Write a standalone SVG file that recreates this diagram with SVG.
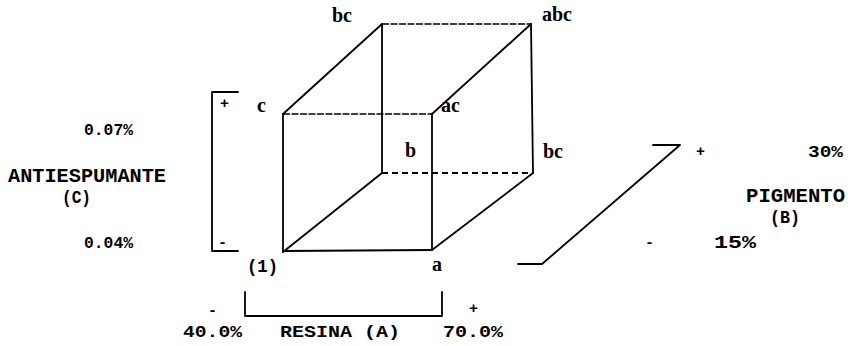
<svg xmlns="http://www.w3.org/2000/svg" width="848" height="346" viewBox="0 0 848 346">
<style>
.ln{stroke:#000;stroke-width:1.8;fill:none;stroke-linecap:round;stroke-linejoin:round}
.thin{stroke:#000;stroke-width:1.3;fill:none;stroke-dasharray:7 1.5}
.dash{stroke:#000;stroke-width:1.8;fill:none;stroke-dasharray:6 4}
.m{font-family:"Liberation Mono","DejaVu Sans Mono",monospace;font-weight:bold;fill:#000}
.s{font-family:"Liberation Serif","DejaVu Serif",serif;font-weight:bold;fill:#000;font-size:20px}
</style>
<rect width="848" height="346" fill="#fff"/>
<g id="connectors">
  <!-- back face -->
  <line class="thin" x1="382" y1="24" x2="531" y2="24"/>
  <line class="ln" x1="382" y1="24" x2="382" y2="173"/>
  <line class="ln" x1="531" y1="24" x2="533" y2="173"/>
  <line class="dash" x1="382" y1="173" x2="533" y2="173"/>
  <!-- front face -->
  <line class="thin" x1="283" y1="114" x2="432" y2="114"/>
  <line class="ln" x1="283" y1="114" x2="283" y2="252"/>
  <line class="ln" x1="432" y1="114" x2="432" y2="250"/>
  <line class="ln" x1="283" y1="251" x2="432" y2="250"/>
  <!-- depth edges -->
  <line class="ln" x1="283" y1="114" x2="382" y2="24"/>
  <line class="ln" x1="432" y1="114" x2="531" y2="24"/>
  <line class="ln" x1="432" y1="250" x2="533" y2="173"/>
  <line class="ln" x1="283" y1="252" x2="382" y2="173"/>
  <!-- C bracket -->
  <polyline class="ln" points="238,92 212,92 212,251 238,251"/>
  <!-- A bracket -->
  <polyline class="ln" points="245,292 245,316 442,316 442,292"/>
  <!-- B axis -->
  <polyline class="ln" points="653,145 680,145 542,264 518,264"/>
</g>
<g id="vertex-labels">
  <text class="s" x="332" y="22">bc</text>
  <text class="s" x="542" y="21">abc</text>
  <text class="s" x="257" y="112">c</text>
  <text class="s" x="441" y="112">ac</text>
  <text class="s" x="405" y="157">b</text>
  <text class="s" x="543" y="158">bc</text>
  <text class="s" x="432" y="271">a</text>
  <text class="m" x="247" y="272" font-size="18" textLength="31" lengthAdjust="spacingAndGlyphs">(1)</text>
</g>
<g id="axis-C">
  <text class="m" x="84" y="135" font-size="17" textLength="49" lengthAdjust="spacingAndGlyphs">0.07%</text>
  <text class="m" x="8" y="182" font-size="21" textLength="158" lengthAdjust="spacingAndGlyphs">ANTIESPUMANTE</text>
  <text class="m" x="62" y="203" font-size="18" textLength="29" lengthAdjust="spacingAndGlyphs">(C)</text>
  <text class="m" x="84" y="248" font-size="17" textLength="49" lengthAdjust="spacingAndGlyphs">0.04%</text>
  <text class="m" x="220" y="108" font-size="15">+</text>
  <text class="m" x="218" y="247" font-size="15">-</text>
</g>
<g id="axis-A">
  <text class="m" x="208" y="315" font-size="15">-</text>
  <text class="m" x="469" y="313" font-size="15">+</text>
  <text class="m" x="183" y="337" font-size="16" textLength="59" lengthAdjust="spacingAndGlyphs">40.0%</text>
  <text class="m" x="280" y="337" font-size="16" textLength="120" lengthAdjust="spacingAndGlyphs">RESINA (A)</text>
  <text class="m" x="443" y="337" font-size="16" textLength="60" lengthAdjust="spacingAndGlyphs">70.0%</text>
</g>
<g id="axis-B">
  <text class="m" x="696" y="156" font-size="15">+</text>
  <text class="m" x="808" y="157" font-size="17" textLength="35" lengthAdjust="spacingAndGlyphs">30%</text>
  <text class="m" x="746" y="202" font-size="20" textLength="99" lengthAdjust="spacingAndGlyphs">PIGMENTO</text>
  <text class="m" x="770" y="223" font-size="19" textLength="30" lengthAdjust="spacingAndGlyphs">(B)</text>
  <text class="m" x="645" y="247" font-size="15">-</text>
  <text class="m" x="714" y="248" font-size="19" textLength="42" lengthAdjust="spacingAndGlyphs">15%</text>
</g>
</svg>
